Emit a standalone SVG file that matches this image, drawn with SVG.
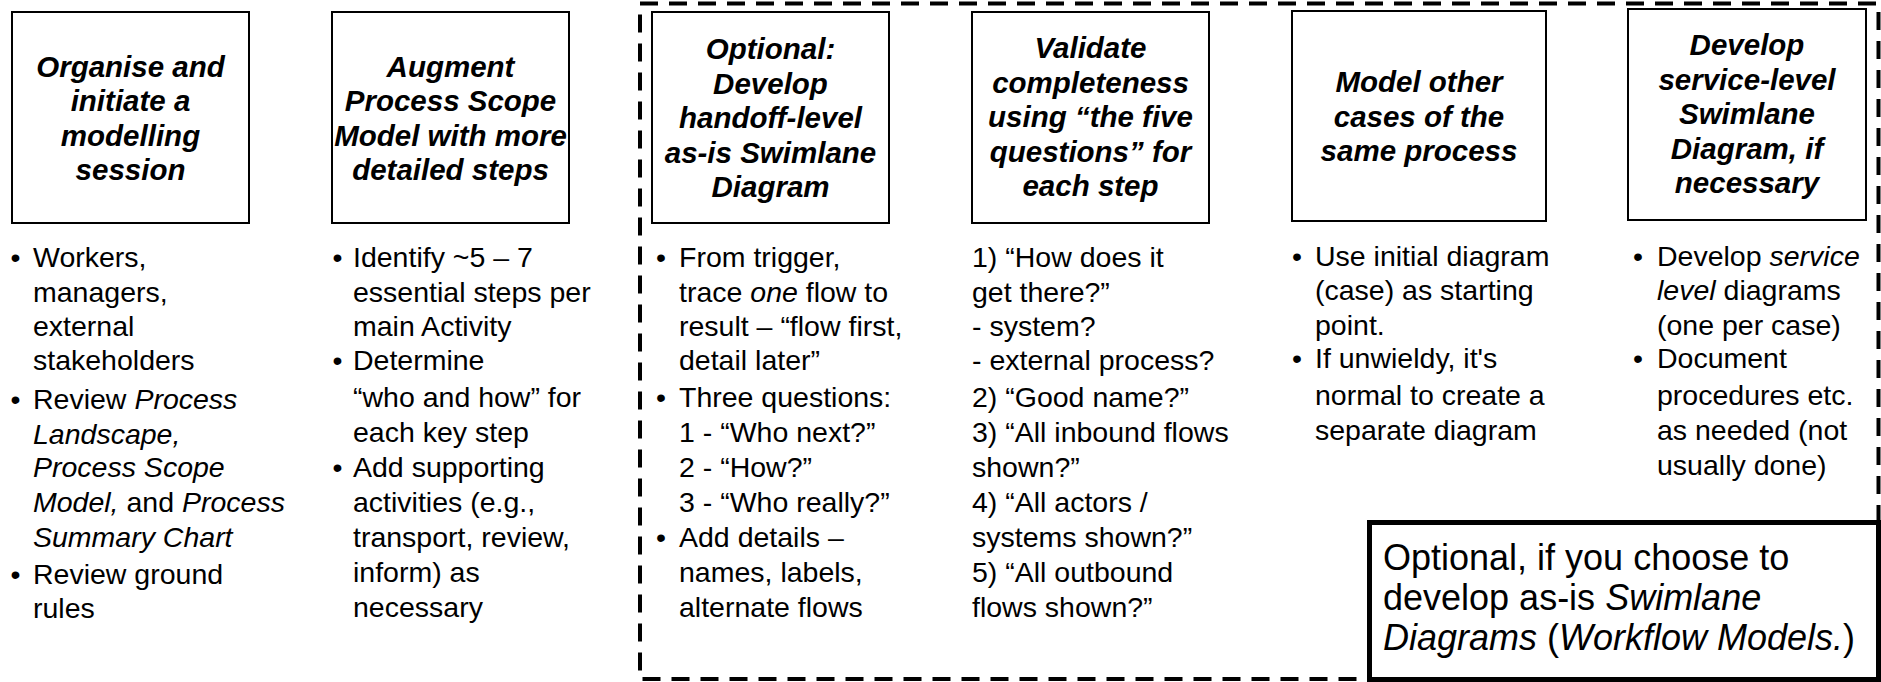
<svg xmlns="http://www.w3.org/2000/svg" width="1881" height="682" viewBox="0 0 1881 682">
<style>
.box{fill:#fff;stroke:#000;stroke-width:2}
.t{font-family:"Liberation Sans",Arial,sans-serif;font-size:29.5px;font-weight:bold;font-style:italic;text-anchor:middle;fill:#000}
.b{font-family:"Liberation Sans",Arial,sans-serif;font-size:28.5px;fill:#000}
.i{font-style:italic}
.note{font-family:"Liberation Sans",Arial,sans-serif;font-size:36px;fill:#000}
.dash{fill:none;stroke:#000;stroke-width:4;stroke-dasharray:18 11}
</style>
<rect width="1881" height="682" fill="#fff"/>

<g id="optional-region">
<rect class="dash" x="640" y="3.5" width="1238.5" height="675.5"/>
</g>

<g id="connectors"></g>

<g id="step1">
<rect class="box" x="12" y="12" width="237" height="211"/>
<text class="t" x="130.5" y="76.5">Organise and</text>
<text class="t" x="130.5" y="111">initiate a</text>
<text class="t" x="130.5" y="145.5">modelling</text>
<text class="t" x="130.5" y="180">session</text>
<g class="b">
<text x="10.5" y="266.5">•</text>
<text x="33" y="266.5">Workers,</text>
<text x="33" y="301.5">managers,</text>
<text x="33" y="336">external</text>
<text x="33" y="369.5">stakeholders</text>
<text x="10.5" y="408.5">•</text>
<text x="33" y="408.5">Review <tspan class="i">Process</tspan></text>
<text x="33" y="443.5" class="i">Landscape,</text>
<text x="33" y="477" class="i">Process Scope</text>
<text x="33" y="511.5"><tspan class="i">Model,</tspan> and <tspan class="i">Process</tspan></text>
<text x="33" y="546.5" class="i">Summary Chart</text>
<text x="10.5" y="583.5">•</text>
<text x="33" y="583.5">Review ground</text>
<text x="33" y="618">rules</text>
</g>
</g>

<g id="step2">
<rect class="box" x="332" y="12" width="237" height="211"/>
<text class="t" x="450.5" y="76.5">Augment</text>
<text class="t" x="450.5" y="111">Process Scope</text>
<text class="t" x="450.5" y="145.5">Model with more</text>
<text class="t" x="450.5" y="180">detailed steps</text>
<g class="b">
<text x="332.5" y="266.5">•</text>
<text x="353" y="266.5">Identify ~5 – 7</text>
<text x="353" y="301.5">essential steps per</text>
<text x="353" y="336">main Activity</text>
<text x="332.5" y="369.5">•</text>
<text x="353" y="369.5">Determine</text>
<text x="353" y="406.5">“who and how” for</text>
<text x="353" y="441.5">each key step</text>
<text x="332.5" y="477">•</text>
<text x="353" y="477">Add supporting</text>
<text x="353" y="511.5">activities (e.g.,</text>
<text x="353" y="546.5">transport, review,</text>
<text x="353" y="582">inform) as</text>
<text x="353" y="617">necessary</text>
</g>
</g>

<g id="step3">
<rect class="box" x="652" y="12" width="237" height="211"/>
<text class="t" x="770.5" y="59">Optional:</text>
<text class="t" x="770.5" y="93.5">Develop</text>
<text class="t" x="770.5" y="128">handoff-level</text>
<text class="t" x="770.5" y="162.5">as-is Swimlane</text>
<text class="t" x="770.5" y="197">Diagram</text>
<g class="b">
<text x="656" y="266.5">•</text>
<text x="679" y="266.5">From trigger,</text>
<text x="679" y="301.5">trace <tspan class="i">one</tspan> flow to</text>
<text x="679" y="336">result – “flow first,</text>
<text x="679" y="369.5">detail later”</text>
<text x="656" y="406.5">•</text>
<text x="679" y="406.5">Three questions:</text>
<text x="679" y="441.5">1 - “Who next?”</text>
<text x="679" y="477">2 - “How?”</text>
<text x="679" y="511.5">3 - “Who really?”</text>
<text x="656" y="546.5">•</text>
<text x="679" y="546.5">Add details –</text>
<text x="679" y="582">names, labels,</text>
<text x="679" y="617">alternate flows</text>
</g>
</g>

<g id="step4">
<rect class="box" x="972" y="12" width="237" height="211"/>
<text class="t" x="1090.5" y="58">Validate</text>
<text class="t" x="1090.5" y="92.5">completeness</text>
<text class="t" x="1090.5" y="127">using “the five</text>
<text class="t" x="1090.5" y="161.5">questions” for</text>
<text class="t" x="1090.5" y="196">each step</text>
<g class="b">
<text x="972" y="266.5">1) “How does it</text>
<text x="972" y="301.5">get there?”</text>
<text x="972" y="336">- system?</text>
<text x="972" y="369.5">- external process?</text>
<text x="972" y="406.5">2) “Good name?”</text>
<text x="972" y="441.5">3) “All inbound flows</text>
<text x="972" y="477">shown?”</text>
<text x="972" y="511.5">4) “All actors /</text>
<text x="972" y="546.5">systems shown?”</text>
<text x="972" y="582">5) “All outbound</text>
<text x="972" y="617">flows shown?”</text>
</g>
</g>

<g id="step5">
<rect class="box" x="1292" y="11" width="254" height="210"/>
<text class="t" x="1419" y="92">Model other</text>
<text class="t" x="1419" y="126.5">cases of the</text>
<text class="t" x="1419" y="161">same process</text>
<g class="b">
<text x="1292" y="265.5">•</text>
<text x="1315" y="265.5">Use initial diagram</text>
<text x="1315" y="300">(case) as starting</text>
<text x="1315" y="334.5">point.</text>
<text x="1292" y="368">•</text>
<text x="1315" y="368">If unwieldy, it's</text>
<text x="1315" y="405">normal to create a</text>
<text x="1315" y="440">separate diagram</text>
</g>
</g>

<g id="step6">
<rect class="box" x="1628" y="9" width="238" height="211"/>
<text class="t" x="1747" y="55">Develop</text>
<text class="t" x="1747" y="89.5">service-level</text>
<text class="t" x="1747" y="124">Swimlane</text>
<text class="t" x="1747" y="158.5">Diagram, if</text>
<text class="t" x="1747" y="193">necessary</text>
<g class="b">
<text x="1633" y="265.5">•</text>
<text x="1657" y="265.5">Develop <tspan class="i">service</tspan></text>
<text x="1657" y="300"><tspan class="i">level</tspan> diagrams</text>
<text x="1657" y="334.5">(one per case)</text>
<text x="1633" y="368">•</text>
<text x="1657" y="368">Document</text>
<text x="1657" y="405">procedures etc.</text>
<text x="1657" y="440">as needed (not</text>
<text x="1657" y="475">usually done)</text>
</g>
</g>

<g id="note">
<rect x="1369.5" y="522.5" width="1509" height="157" fill="#fff" stroke="none"/>
<rect x="1369.5" y="522.5" width="509" height="157" fill="#fff" stroke="#000" stroke-width="5"/>
<text class="note" x="1383" y="570">Optional, if you choose to</text>
<text class="note" x="1383" y="610">develop as-is <tspan class="i">Swimlane</tspan></text>
<text class="note" x="1383" y="650"><tspan class="i">Diagrams</tspan> (<tspan class="i">Workflow Models.</tspan>)</text>
</g>
</svg>
